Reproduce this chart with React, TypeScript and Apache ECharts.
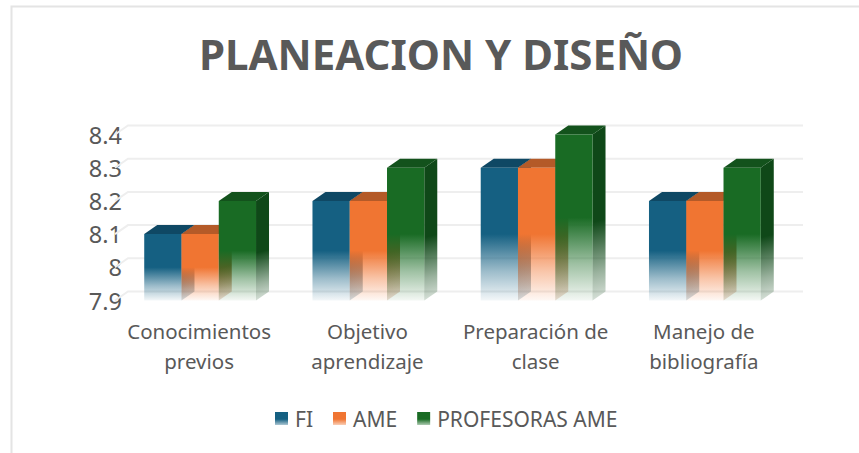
import React, { useEffect, useRef } from "react";
import * as echarts from "echarts";

const title = "PLANEACION Y DISEÑO";
const categories = ["Conocimientos\nprevios", "Objetivo\naprendizaje", "Preparación de\nclase", "Manejo de\nbibliografía"];
const fi = [8.1, 8.2, 8.3, 8.2];
const ame = [8.1, 8.2, 8.3, 8.2];
const profesoras = [8.2, 8.3, 8.4, 8.3];
const ticks = [7.9, 8, 8.1, 8.2, 8.3, 8.4];

const DX = 13;
const DY = 9;
const FONT = "'Noto Sans', 'Open Sans', sans-serif";

const rgba = (c: number[], a: number) => `rgba(${c[0]},${c[1]},${c[2]},${a})`;

function fade(x0: number, y0: number, x1: number, y1: number, c: number[]) {
  return new echarts.graphic.LinearGradient(
    x0, y0, x1, y1,
    [
      { offset: 0, color: rgba(c, 1) },
      { offset: 0.5, color: rgba(c, 1) },
      { offset: 0.78, color: rgba(c, 0.42) },
      { offset: 1, color: rgba(c, 0.05) },
    ],
    true
  );
}

function barRenderer(slot: number, front: number[], top: number[], side: number[]) {
  return (_: any, api: any) => {
    const i = api.value(0);
    const v = api.value(1);
    const [cx, yTop] = api.coord([i, v]);
    const [, yBase] = api.coord([i, 7.9]);
    const w = api.size([1, 0])[0] * 0.2215;
    const x0 = cx + 1 + (slot - 1.5) * w;
    const x1 = x0 + w;
    return {
      type: "group",
      children: [
        {
          type: "polygon",
          shape: { points: [[x1, yTop], [x1 + DX, yTop - DY], [x1 + DX, yBase - DY], [x1, yBase]] },
          style: { fill: fade(x1, yTop - 4, x1 + (yBase - yTop) * 0.28, yBase + 1, side) },
        },
        {
          type: "polygon",
          shape: { points: [[x0, yTop], [x0 + DX, yTop - DY], [x1 + DX, yTop - DY], [x1, yTop]] },
          style: { fill: rgba(top, 1) },
        },
        {
          type: "rect",
          shape: { x: x0, y: yTop, width: w, height: yBase - yTop },
          style: { fill: fade(x0, yTop, x0, yBase, front) },
        },
      ],
    };
  };
}

function gridRenderer(params: any, api: any) {
  const y = api.coord([0, api.value(0)])[1];
  const cs = params.coordSys;
  return {
    type: "polyline",
    shape: { points: [[cs.x, y], [cs.x + DX, y - DY], [cs.x + cs.width + DX + 2, y - DY]] },
    style: { stroke: "#eeeeee", lineWidth: 2, fill: "none" },
  };
}

const bar = (name: string, data: number[], slot: number, front: number[], top: number[], side: number[]) => ({
  name,
  type: "custom",
  coordinateSystem: "cartesian2d",
  encode: { x: 0, y: 1 },
  data: data.map((v, i) => [i, v]),
  renderItem: barRenderer(slot, front, top, side),
  itemStyle: {
    color: new echarts.graphic.LinearGradient(0, 0, 0, 1, [
      { offset: 0, color: rgba(front, 1) },
      { offset: 0.55, color: rgba(front, 1) },
      { offset: 1, color: rgba(front, 0.35) },
    ]),
  },
});

export default function App() {
  const ref = useRef<HTMLDivElement>(null);
  useEffect(() => {
    const chart = echarts.init(ref.current!, null, { renderer: "svg" });
    chart.setOption({
      animation: false,
      backgroundColor: "#ffffff",
      title: {
        text: title,
        left: 436,
        top: 27,
        textAlign: "center",
        textStyle: { color: "#595959", fontFamily: FONT, fontWeight: 700, fontSize: 42 },
      },
      graphic: [
        {
          type: "polyline",
          silent: true,
          shape: { points: [[11.5, 453], [11.5, 6.5], [859, 6.5]] },
          style: { stroke: "#e4e4e4", lineWidth: 2, fill: "none" },
        },
      ],
      grid: { left: 115, right: 71, top: 134.5, bottom: 152.5 },
      xAxis: {
        type: "category",
        data: categories,
        axisLine: { show: false },
        axisTick: { show: false },
        axisLabel: { color: "#595959", fontFamily: FONT, fontSize: 20.5, lineHeight: 30, margin: 15, interval: 0 },
      },
      yAxis: {
        type: "value",
        min: 7.9,
        max: 8.4,
        interval: 0.1,
        axisLine: { show: false },
        axisTick: { show: false },
        splitLine: { show: false },
        axisLabel: { color: "#595959", fontFamily: FONT, fontSize: 23.5, margin: -7, align: "right", padding: [0, 0, 3, 0], formatter: (v: number) => String(Math.round(v * 10) / 10) },
      },
      legend: {
        data: ["FI", "AME", "PROFESORAS AME"],
        left: 270,
        top: 403,
        icon: "rect",
        itemWidth: 13,
        itemHeight: 13,
        itemGap: 20,
        textStyle: { color: "#595959", fontFamily: FONT, fontSize: 21, padding: [0, 0, 0, 2] },
      },
      series: [
        {
          type: "custom",
          coordinateSystem: "cartesian2d",
          silent: true,
          encode: { x: -1, y: 0 },
          data: ticks.map((t) => [t]),
          renderItem: gridRenderer,
        },
        bar("FI", fi, 0, [21, 96, 130], [15, 72, 100], [14, 70, 96]),
        bar("AME", ame, 1, [240, 117, 50], [180, 90, 40], [170, 84, 36]),
        bar("PROFESORAS AME", profesoras, 2, [25, 107, 36], [19, 82, 28], [15, 72, 24]),
      ],
    });
    return () => chart.dispose();
  }, []);
  return <div ref={ref} style={{ position: "fixed", left: 0, top: 0, width: 859, height: 453 }} />;
}
